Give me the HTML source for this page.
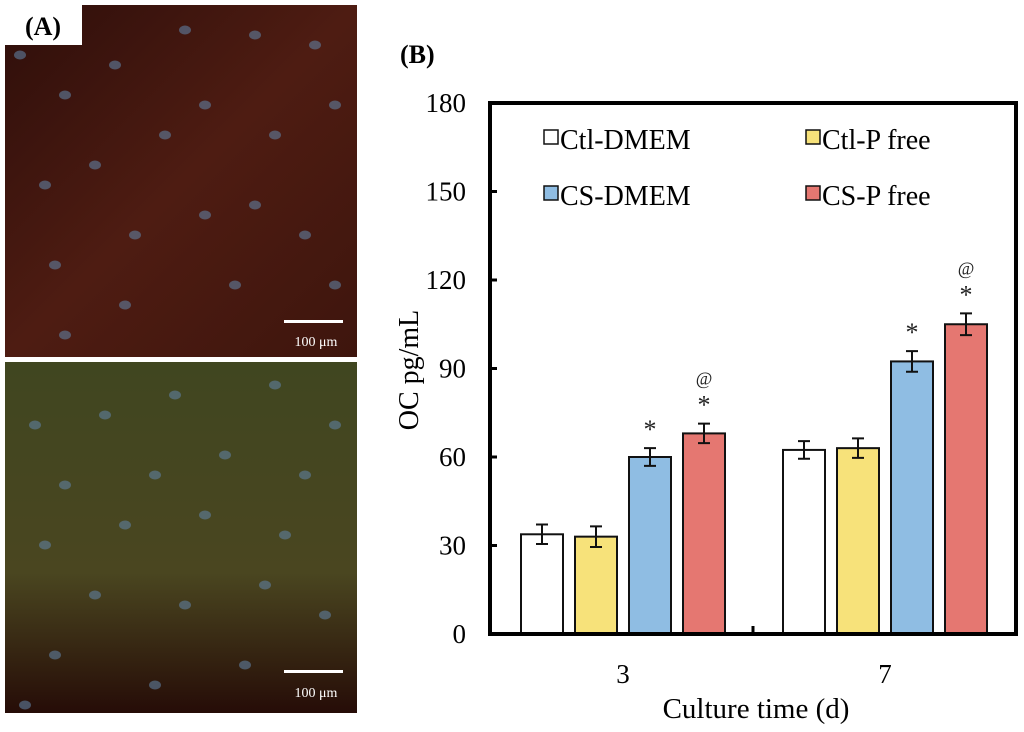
<!DOCTYPE html>
<html><head><meta charset="utf-8"><style>
body{margin:0;width:1024px;height:732px;background:#fff;overflow:hidden;font-family:"Liberation Serif",serif}
svg{position:absolute;left:0;top:0}
</style></head><body>
<svg width="1024" height="732">
<defs>
<linearGradient id="gTop" x1="0" y1="0" x2="1" y2="1">
<stop offset="0" stop-color="#2e0e0a"/><stop offset="0.5" stop-color="#4e1c12"/><stop offset="1" stop-color="#3e150d"/></linearGradient>
<linearGradient id="gBot" x1="0" y1="0" x2="0" y2="1">
<stop offset="0" stop-color="#404620"/><stop offset="0.6" stop-color="#4a4620"/><stop offset="1" stop-color="#260c07"/></linearGradient>
</defs>
<g>
<rect x="5" y="5" width="352" height="352" fill="url(#gTop)"/>
<rect x="5" y="362" width="352" height="351" fill="url(#gBot)"/>
<g id="nuclei"></g>
<rect x="5" y="5" width="77" height="40" fill="#fff"/>
<text x="43" y="35" font-size="26" font-weight="bold" text-anchor="middle">(A)</text>
<rect x="284" y="320" width="59" height="3" fill="#fff"/>
<text x="316" y="346" font-size="14" fill="#fff" text-anchor="middle">100 μm</text>
<rect x="284" y="670" width="59" height="3" fill="#fff"/>
<text x="316" y="697" font-size="14" fill="#fff" text-anchor="middle">100 μm</text>
</g>
<text x="400" y="63" font-size="26" font-weight="bold">(B)</text>
<g id="chart"></g>
</svg>
<script>
const categories = ["3","7"];
const seriesNames = ["Ctl-DMEM","Ctl-P free","CS-DMEM","CS-P free"];
const ctlDmem = [33.8, 62.4];
const ctlPfree = [33, 63];
const csDmem = [60, 92.4];
const csPfree = [68, 105];
const errCtlDmem = [3.3, 3];
const errCtlPfree = [3.5, 3.3];
const errCsDmem = [3, 3.5];
const errCsPfree = [3.3, 3.7];
const yTicks = [0,30,60,90,120,150,180];
const marks = [[[],[],["*"],["@","*"]],[[],[],["*"],["@","*"]]];

const NS="http://www.w3.org/2000/svg";
const chart=document.getElementById('chart');
function mk(tag,attrs,parent){const e=document.createElementNS(NS,tag);for(const k in attrs)e.setAttribute(k,attrs[k]);(parent||chart).appendChild(e);return e;}
const L=490,R=1016,T=103,B=634;
const y=v=>B-v*(531/180);
const groupCenters=[623,885];
const x=(gi,si)=>groupCenters[gi]+(si-1.5)*54;
const colors=["#ffffff","#f7e27a","#8fbde3","#e57771"];
const vals=[ctlDmem,ctlPfree,csDmem,csPfree];
const errs=[errCtlDmem,errCtlPfree,errCsDmem,errCsPfree];
const bw=42;
categories.forEach((c,gi)=>{
  vals.forEach((s,si)=>{
    const cx=x(gi,si);
    const r=mk('rect',{x:cx-bw/2,y:y(s[gi]),width:bw,height:B-y(s[gi]),fill:colors[si],stroke:'#111','stroke-width':2});
    
    
    const e=errs[si][gi],t=y(s[gi]+e),b=y(s[gi]-e);
    const g=mk('path',{d:`M${cx},${t}V${b}M${cx-6},${t}H${cx+6}M${cx-6},${b}H${cx+6}`,stroke:'#111','stroke-width':2,fill:'none'});
    
    
    const m=marks[gi][si];
    m.slice().reverse().forEach((sym,k)=>{
      const tx=mk('text',{x:cx,y:t-(sym==='*'?10:12)-k*27,'font-size':sym==='*'?26:18,'text-anchor':'middle',fill:'#222'});
      tx.textContent=sym;
      
      
    });
  });
  const lb=mk('text',{x:groupCenters[gi],y:683,'font-size':27,'text-anchor':'middle'});
  lb.textContent=c;
  
  
});
const box=mk('rect',{x:L,y:T,width:R-L,height:B-T,fill:'none',stroke:'#000','stroke-width':4});


const mt=mk('line',{x1:753,x2:753,y1:B,y2:B-8,stroke:'#000','stroke-width':3});


yTicks.forEach(v=>{
  const tk=mk('line',{x1:L,x2:L+7,y1:y(v),y2:y(v),stroke:'#000','stroke-width':3});
  
  
  const t=mk('text',{x:466,y:y(v)+9,'font-size':27,'text-anchor':'end'});
  t.textContent=v;
  
  
});
const yl=mk('text',{x:0,y:0,'font-size':28,'text-anchor':'middle',transform:'translate(418,370) rotate(-90)'});
yl.textContent='OC pg/mL';


const xl=mk('text',{x:756,y:718,'font-size':29,'text-anchor':'middle'});
xl.textContent='Culture time (d)';


const lp=[[544,139],[806,139],[544,195],[806,195]];
seriesNames.forEach((n,i)=>{
  const [lx,ly]=lp[i];
  const r=mk('rect',{x:lx,y:ly-9,width:14,height:14,fill:colors[i],stroke:'#111','stroke-width':1.5});
  
  
  const t=mk('text',{x:lx+16,y:ly+10,'font-size':28});
  t.textContent=n;
  
  
});
// decorative nuclei
const nuc=document.getElementById('nuclei');
const pts=[[15,50],[60,90],[110,60],[180,25],[250,30],[310,40],[40,180],[90,160],[160,130],[200,100],[270,130],[330,100],[50,260],[130,230],[200,210],[250,200],[300,230],[120,300],[60,330],[230,280],[330,280],[30,420],[100,410],[170,390],[270,380],[330,420],[60,480],[150,470],[220,450],[300,470],[40,540],[120,520],[200,510],[280,530],[90,590],[180,600],[260,580],[320,610],[50,650],[150,680],[240,660],[20,700]];
pts.forEach(p=>{const e=mk('ellipse',{cx:p[0]+5,cy:p[1]+5,rx:6,ry:4.5,fill:'#5f7fa0','fill-opacity':0.6},nuc);});
</script>
</body></html>
